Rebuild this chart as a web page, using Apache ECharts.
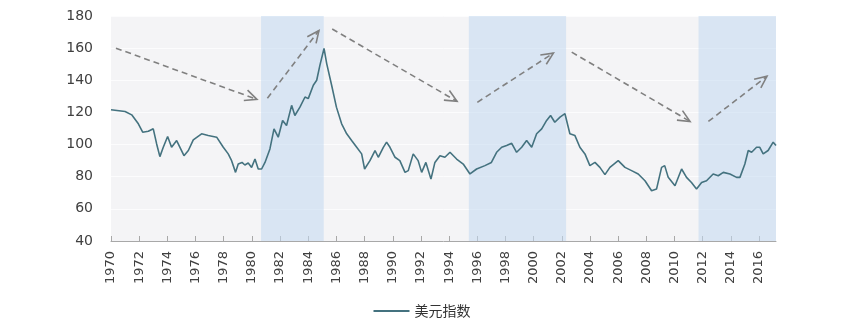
<!DOCTYPE html>
<html>
<head>
<meta charset="utf-8">
<script src="https://cdn.jsdelivr.net/npm/echarts@6/dist/echarts.min.js"></script>
<style>html,body{margin:0;padding:0;background:#fff}#c{width:844px;height:323px}</style>
</head>
<body>
<div id="c"></div>
<script>
var years = [1970.0,1971.0,1971.47,1971.94,1972.25,1972.65,1973.0,1973.24,1973.47,1973.71,1974.02,1974.3,1974.66,1975.18,1975.49,1975.84,1976.43,1976.9,1977.5,1977.97,1978.32,1978.56,1978.84,1979.03,1979.3,1979.5,1979.74,1979.98,1980.22,1980.45,1980.69,1980.93,1981.28,1981.57,1981.87,1982.18,1982.46,1982.82,1983.05,1983.41,1983.77,1984.0,1984.36,1984.6,1984.83,1985.12,1985.31,1985.66,1986.0,1986.37,1986.73,1987.08,1987.44,1987.79,1988.0,1988.38,1988.74,1988.97,1989.33,1989.56,1989.8,1990.16,1990.5,1990.87,1991.1,1991.45,1991.8,1992.05,1992.35,1992.71,1992.99,1993.35,1993.7,1994.06,1994.53,1995.0,1995.48,1995.95,1996.54,1997.0,1997.37,1997.73,1998.08,1998.44,1998.79,1999.15,1999.5,1999.86,2000.21,2000.57,2000.92,2001.2,2001.5,2001.87,2002.22,2002.57,2002.93,2003.28,2003.64,2003.99,2004.35,2004.7,2005.06,2005.41,2006.0,2006.48,2006.95,2007.42,2007.9,2008.37,2008.72,2009.08,2009.3,2009.55,2010.03,2010.5,2010.85,2011.2,2011.56,2011.92,2012.27,2012.74,2013.1,2013.46,2013.93,2014.4,2014.64,2014.99,2015.23,2015.47,2015.82,2016.05,2016.29,2016.64,2017.0,2017.2];
var values = [121.7,120.6,118.5,112.9,107.7,108.3,109.8,100.4,92.5,98.3,105.0,98.3,102.5,93.1,96.3,102.9,106.7,105.6,104.6,98.3,94.2,90.0,82.7,87.9,88.9,87.3,88.5,85.8,91.0,84.8,84.8,88.9,97.3,109.8,104.6,115.0,111.9,124.4,118.1,123.3,129.6,128.6,136.9,140.0,149.4,159.8,150.4,136.9,123.3,112.9,106.7,102.5,98.3,94.2,84.8,90.0,96.3,92.1,98.3,101.5,98.3,92.1,90.0,82.7,83.8,94.2,90.0,82.7,88.9,78.5,88.9,93.1,92.1,95.2,91.0,87.9,81.7,84.8,86.9,88.9,95.2,98.3,99.4,100.8,95.2,98.3,102.5,98.3,106.7,109.8,115.0,118.1,113.9,117.1,119.2,106.7,105.6,98.3,94.2,86.9,88.9,85.8,81.3,85.8,90.0,85.8,83.8,81.7,77.5,71.3,72.3,85.8,86.9,79.6,74.4,84.8,79.6,76.4,72.3,76.4,77.5,81.7,80.6,82.7,81.7,79.6,79.6,87.9,96.3,95.2,98.3,98.3,94.2,96.3,101.5,99.4];
var yTicks = [40,60,80,100,120,140,160,180];
var bands = [[1980.65,1985.1],[1995.4,2002.3],[2011.7,2017.2]];
var arrows = [
  [1970.35,160.0,1980.36,128.1],
  [1981.1,128.8,1984.76,171.0],
  [1985.7,171.9,1994.56,126.9],
  [1996.0,126.3,2001.4,156.9],
  [2002.7,157.5,2011.1,114.4],
  [2012.4,114.4,2016.56,142.5]
];

var lineData = years.map(function(y,i){return [y, values[i]];});
var chart = echarts.init(document.getElementById('c'));
chart.setOption({
  animation: false,
  grid: {left:111, right:68, top:16, bottom:82, show:true, backgroundColor:'#f4f4f6', borderWidth:0},
  legend: {
    data:['美元指数'], bottom:0, left:'center', icon:'rect', itemWidth:36, itemHeight:2, itemGap:10,
    textStyle:{fontFamily:'Noto Sans CJK SC', fontSize:14, color:'#333'}
  },
  xAxis: {
    type:'value', min:1970, max:2017.2, interval:2,
    axisLine:{show:true, lineStyle:{color:'#a8a8a8', width:1}},
    axisTick:{show:true, inside:true, length:5, lineStyle:{color:'#a8a8a8'}},
    splitLine:{show:false},
    axisLabel:{rotate:90, margin:10, showMaxLabel:false, fontFamily:'DejaVu Sans', fontSize:13, color:'#404040',
      formatter:function(v){return (Math.abs(v-Math.round(v))<1e-6 && Math.round(v)%2===0)? String(Math.round(v)) : '';}}
  },
  yAxis: {
    type:'value', min:yTicks[0], max:yTicks[yTicks.length-1], interval:20,
    axisLine:{show:false}, axisTick:{show:false},
    splitLine:{show:true, lineStyle:{color:'#fcfcfd', width:1}},
    axisLabel:{margin:18, fontFamily:'DejaVu Sans', fontSize:14, color:'#404040'}
  },
  series: [
    {
      name:'美元指数', type:'line', data:lineData, showSymbol:false, symbol:'none',
      lineStyle:{color:'#44727f', width:1.6}, itemStyle:{color:'#44727f'}, z:3,
      markArea:{silent:true, itemStyle:{color:'rgba(195,216,241,0.55)'},
        data: bands.map(function(b){return [{xAxis:b[0]},{xAxis:b[1]}];})}
    },
    {
      type:'custom', data:arrows, encode:{x:[0,2], y:[1,3]}, z:4, silent:true,
      renderItem:function(params, api){
        var p1 = api.coord([api.value(0), api.value(1)]);
        var p2 = api.coord([api.value(2), api.value(3)]);
        var dx = p2[0]-p1[0], dy = p2[1]-p1[1];
        var len = Math.sqrt(dx*dx+dy*dy); var ux = dx/len, uy = dy/len;
        var h = 12, w = 5.5;
        var bx = p2[0]-ux*h, by = p2[1]-uy*h;
        var a1 = [bx - uy*w, by + ux*w], a2 = [bx + uy*w, by - ux*w];
        var st = {stroke:'#808080', lineWidth:1.6, fill:null};
        return {type:'group', children:[
          {type:'line', shape:{x1:p1[0],y1:p1[1],x2:p2[0],y2:p2[1]}, style:{stroke:'#808080', lineWidth:1.6, lineDash:[6,4]}},
          {type:'polyline', shape:{points:[a1,p2,a2]}, style:st}
        ]};
      }
    }
  ]
});
</script>
</body>
</html>
